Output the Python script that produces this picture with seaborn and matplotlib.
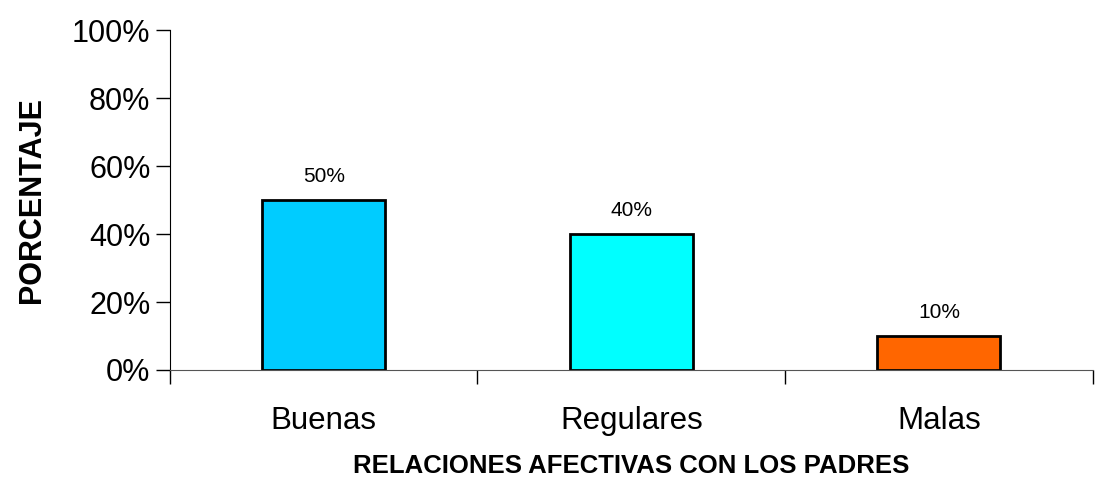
"""Relaciones afectivas con los padres - bar chart."""

import matplotlib

matplotlib.use("Agg")
import matplotlib.pyplot as plt
import pandas as pd
import seaborn as sns
from matplotlib.ticker import FixedLocator, PercentFormatter

categories = ["Buenas", "Regulares", "Malas"]
percentages = [50, 40, 10]
bar_colors = ["#00CCFF", "#00FFFF", "#FF6600"]
y_ticks = [0, 20, 40, 60, 80, 100]

df = pd.DataFrame({"categoria": categories, "porcentaje": percentages})

sns.set_style("white")
plt.rcParams["font.family"] = ["Liberation Sans", "DejaVu Sans"]
plt.rcParams["text.color"] = "black"
plt.rcParams["xtick.color"] = "black"
plt.rcParams["ytick.color"] = "black"
plt.rcParams["axes.labelcolor"] = "black"

fig = plt.figure(figsize=(10.96, 4.78), dpi=100)
ax = fig.add_axes([0.155, 0.226, 0.842, 0.711])

sns.barplot(
    data=df,
    x="categoria",
    y="porcentaje",
    hue="categoria",
    palette=bar_colors,
    saturation=1,
    width=0.4,
    edgecolor="black",
    linewidth=2,
    legend=False,
    ax=ax,
)

for container in ax.containers:
    ax.bar_label(container, fmt="%d%%", padding=10, fontsize=15)

ax.set_xlim(-0.5, len(categories) - 0.5)
ax.set_ylim(0, 100)
ax.set_yticks(y_ticks)
ax.yaxis.set_major_formatter(PercentFormatter(decimals=0))
ax.tick_params(axis="y", length=10, width=1, labelsize=22, pad=4, left=True)

# category boundaries carry the tick marks, labels sit between them
ax.xaxis.set_major_locator(FixedLocator([i - 0.5 for i in range(len(categories) + 1)]))
ax.xaxis.set_minor_locator(FixedLocator(list(range(len(categories)))))
ax.set_xticklabels([""] * (len(categories) + 1))
ax.set_xticklabels(categories, minor=True)
ax.tick_params(axis="x", which="major", length=10, width=1, bottom=True)
ax.tick_params(axis="x", which="minor", length=0, labelsize=22.5, pad=26)

for side in ["top", "right"]:
    ax.spines[side].set_visible(False)
ax.spines["left"].set_color("black")
ax.spines["bottom"].set_color("#555555")

ax.set_xlabel("RELACIONES AFECTIVAS CON LOS PADRES", fontsize=18.5, fontweight="bold", labelpad=13)
ax.set_ylabel("PORCENTAJE", fontsize=22, fontweight="bold", labelpad=18)

fig.savefig("out.png", dpi=100)
